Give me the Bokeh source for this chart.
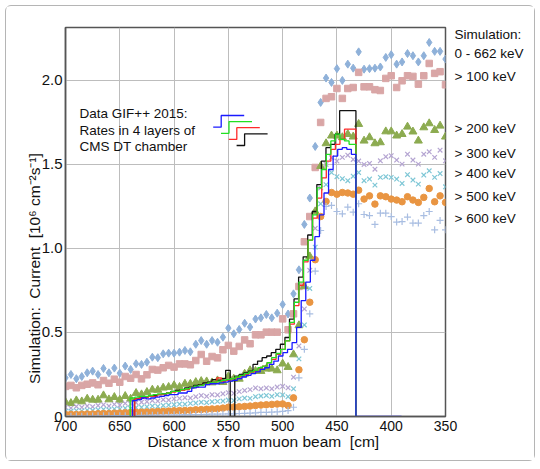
import math
from bokeh.plotting import figure
from bokeh.models import Range1d, FixedTicker, Label, LinearAxis, PrintfTickFormatter
from bokeh.embed import file_html
from bokeh.resources import INLINE

# ---------------- data ----------------
# simulation points every 5 cm from 700 down to 350
x_sim = list(range(700, 345, -5))

sim_0_662 = [0.23, 0.25, 0.225, 0.238, 0.26, 0.27, 0.25, 0.286, 0.26, 0.288, 0.258, 0.30, 0.28, 0.314,
             0.31, 0.323, 0.353, 0.35, 0.373, 0.377, 0.377, 0.383, 0.393, 0.385, 0.43, 0.452, 0.43, 0.452,
             0.442, 0.472, 0.526, 0.492, 0.518, 0.555, 0.532, 0.58, 0.587, 0.607, 0.587, 0.615, 0.667, 0.61,
             0.73, 0.873, 1.143, 1.30, 1.607, 1.869, 2.014, 1.988, 2.07, 2.0, 2.097, 2.073, 2.17, 2.067,
             2.07, 2.073, 2.08, 2.137, 2.153, 2.097, 2.11, 2.16, 2.147, 2.11, 2.147, 2.226, 2.173, 2.173, 2.127]
sim_100 = [0.179, 0.185, 0.171, 0.185, 0.192, 0.2, 0.189, 0.214, 0.198, 0.222, 0.204, 0.238, 0.228, 0.25,
           0.224, 0.248, 0.28, 0.276, 0.29, 0.304, 0.294, 0.313, 0.313, 0.308, 0.333, 0.369, 0.329, 0.357,
           0.349, 0.397, 0.423, 0.389, 0.417, 0.456, 0.433, 0.486, 0.486, 0.502, 0.502, 0.502, 0.581, 0.516,
           0.611, 0.774, 1.04, 1.19, 1.482, 1.75, 1.893, 1.903, 1.952, 1.893, 1.952, 1.958, 2.048, 1.962,
           1.962, 1.945, 1.94, 2.012, 2.028, 1.958, 1.998, 2.028, 2.024, 1.978, 2.028, 2.101, 2.042, 2.052, 1.974]
sim_200 = [0.085, 0.079, 0.095, 0.089, 0.105, 0.099, 0.099, 0.125, 0.101, 0.115, 0.099, 0.121, 0.105, 0.139,
           0.131, 0.145, 0.159, 0.158, 0.171, 0.175, 0.185, 0.175, 0.194, 0.194, 0.204, 0.21, 0.208, 0.202,
           0.214, 0.204, 0.238, 0.224, 0.224, 0.254, 0.274, 0.27, 0.27, 0.284, 0.284, 0.274, 0.314, 0.294,
           0.369, 0.542, 0.774, 0.952, 1.22, 1.49, 1.625, 1.671, 1.671, 1.661, 1.68, 1.665, 1.74, 1.641,
           1.661, 1.625, 1.631, 1.696, 1.696, 1.671, 1.68, 1.724, 1.695, 1.641, 1.72, 1.744, 1.704, 1.73, 1.665]
sim_300 = [0.055, 0.05, 0.06, 0.055, 0.062, 0.058, 0.065, 0.07, 0.062, 0.072, 0.068, 0.078, 0.075, 0.082,
           0.085, 0.088, 0.095, 0.092, 0.1, 0.098, 0.105, 0.108, 0.112, 0.11, 0.118, 0.125, 0.12, 0.13,
           0.128, 0.135, 0.142, 0.138, 0.148, 0.155, 0.16, 0.17, 0.165, 0.17, 0.165, 0.175, 0.18, 0.171,
           0.234, 0.42, 0.64, 0.87, 1.12, 1.36, 1.5, 1.54, 1.52, 1.542, 1.555, 1.53, 1.52, 1.5,
           1.506, 1.472, 1.522, 1.546, 1.552, 1.526, 1.502, 1.561, 1.526, 1.502, 1.561, 1.575, 1.542, 1.585, 1.522]
sim_400 = [0.03, 0.032, 0.035, 0.033, 0.038, 0.036, 0.04, 0.042, 0.04, 0.045, 0.044, 0.05, 0.048, 0.053,
           0.055, 0.058, 0.062, 0.06, 0.066, 0.068, 0.07, 0.074, 0.073, 0.078, 0.08, 0.085, 0.083, 0.088,
           0.09, 0.092, 0.098, 0.095, 0.105, 0.11, 0.108, 0.118, 0.122, 0.125, 0.12, 0.13, 0.128, 0.118,
           0.165, 0.343, 0.545, 0.762, 1.008, 1.266, 1.38, 1.452, 1.427, 1.415, 1.403, 1.43, 1.452, 1.403,
           1.413, 1.377, 1.423, 1.427, 1.423, 1.413, 1.387, 1.439, 1.407, 1.383, 1.437, 1.462, 1.423, 1.446, 1.367]
sim_500 = [0.012, 0.013, 0.012, 0.014, 0.015, 0.015, 0.017, 0.018, 0.018, 0.02, 0.021, 0.022, 0.024, 0.025,
           0.026, 0.027, 0.028, 0.03, 0.031, 0.032, 0.034, 0.035, 0.036, 0.037, 0.04, 0.041, 0.043, 0.045,
           0.046, 0.05, 0.055, 0.056, 0.058, 0.06, 0.062, 0.065, 0.068, 0.07, 0.072, 0.074, 0.075, 0.065,
           0.111, 0.278, 0.457, 0.68, 0.933, 1.19, 1.28, 1.333, 1.323, 1.333, 1.33, 1.323, 1.347, 1.294,
           1.313, 1.264, 1.313, 1.308, 1.294, 1.288, 1.278, 1.308, 1.288, 1.274, 1.304, 1.357, 1.278, 1.313, 1.274]
sim_600 = [0.002, 0.002, 0.003, 0.002, 0.003, 0.003, 0.004, 0.004, 0.004, 0.005, 0.005, 0.005, 0.006, 0.006,
           0.007, 0.007, 0.008, 0.008, 0.009, 0.009, 0.01, 0.01, 0.011, 0.011, 0.012, 0.012, 0.013, 0.014,
           0.014, 0.015, 0.016, 0.016, 0.018, 0.019, 0.02, 0.022, 0.024, 0.025, 0.026, 0.028, 0.03, 0.035,
           0.055, 0.23, 0.40, 0.611, 0.865, 1.107, 1.25, 1.256, 1.22, 1.206, 1.246, 1.216, 1.266, 1.202,
           1.196, 1.143, 1.21, 1.21, 1.19, 1.157, 1.16, 1.187, 1.151, 1.151, 1.196, 1.22, 1.111, 1.167, 1.111]

# measured rates in the 4 DT layers (cell width 4.2 cm)
cell_w = 4.2
blue_start, green_start, red_start, black_start = 638.3, 640.4, 636.2, 636.5
data_end = 432.5
layer_blue = [0.095, 0.10, 0.11, 0.105, 0.11, 0.115, 0.12, 0.125, 0.13, 0.13, 0.14, 0.14, 0.15, 0.17,
              0.175, 0.175, 0.19, 0.195, 0.195, 0.2, 0.205, 0.21, 0.215, 0.225, 0.235, 0.245, 0.255, 0.265,
              0.28, 0.29, 0.31, 0.33, 0.36, 0.38, 0.40, 0.44, 0.53, 0.69, 0.80, 0.93, 1.07, 1.20, 1.33,
              1.47, 1.55, 1.59, 1.60, 1.59, 1.56,
              0, 0, 0, 0, 0, 0, 0, 0, 0, 0]
layer_green = [0.11, 0.115, 0.12, 0.12, 0.125, 0.13, 0.135, 0.135, 0.14, 0.15, 0.15, 0.16, 0.165, 0.17,
               0.18, 0.185, 0.19, 0.20, 0.205, 0.21, 0.215, 0.22, 0.225, 0.235, 0.245, 0.255, 0.265, 0.275,
               0.29, 0.30, 0.32, 0.35, 0.375, 0.40, 0.45, 0.56, 0.68, 0.80, 0.93, 1.05, 1.20, 1.36, 1.47,
               1.56, 1.64, 1.68, 1.65, 1.64, 1.62]
layer_red = [0.105, 0.11, 0.115, 0.12, 0.12, 0.13, 0.13, 0.14, 0.145, 0.15, 0.155, 0.16, 0.17, 0.175,
             0.185, 0.19, 0.195, 0.205, 0.23, 0.21, 0.215, 0.225, 0.23, 0.24, 0.25, 0.26, 0.27, 0.285,
             0.30, 0.32, 0.34, 0.37, 0.40, 0.45, 0.55, 0.66, 0.78, 0.92, 1.05, 1.18, 1.30, 1.42, 1.52,
             1.59, 1.62, 1.65, 1.71, 1.71]
layer_black = [0.105, 0.11, 0.115, 0.12, 0.125, 0.13, 0.135, 0.14, 0.15, 0.155, 0.16, 0.17, 0.175, 0.185,
               0.19, 0.2, 0.205, 0.22, 0.215, 0.225, 0.275, 0.0, 0.24, 0.25, 0.26, 0.27, 0.31, 0.33,
               0.35, 0.36, 0.38, 0.40, 0.43, 0.47, 0.58, 0.70, 0.83, 0.95, 1.08, 1.22, 1.38, 1.52, 1.60,
               1.62, 1.68, 1.82, 1.82, 1.82]

x_ticks = [700, 650, 600, 550, 500, 450, 400, 350]
y_ticks = [0, 0.5, 1.0, 1.5, 2.0]
sim_labels = ["Simulation:", "0 - 662 keV", "> 100 keV", "> 200 keV", "> 300 keV",
              "> 400 keV", "> 500 keV", "> 600 keV"]
legend_lines = ["Data GIF++ 2015:", "Rates in 4 layers of", "CMS DT chamber"]

# ---------------- layout helpers ----------------
X0, X1, Y0, Y1 = 700, 350, 0.0, 2.315
FL, FT, FW, FH = 65, 27, 380, 389   # frame position on page
MARGIN = 5


def px2x(px):
    return X0 + (px - FL) * (X1 - X0) / FW


def py2y(py):
    return Y0 + (FT + FH - py) * (Y1 - Y0) / FH


FONT = "Liberation Sans"
TXT = "#111111"
NB = "\u00a0"

p = figure(frame_width=FW, frame_height=FH,
           min_border_left=FL - MARGIN - 1, min_border_right=89,
           min_border_top=FT - MARGIN - 1, min_border_bottom=44,
           x_range=Range1d(X0, X1), y_range=Range1d(Y0, Y1),
           output_backend="svg", toolbar_location=None)
p.styles = {"border": "1px solid #b5b5b5", "border-radius": "6px",
            "margin": f"{MARGIN}px 0 0 {MARGIN}px"}
p.background_fill_color = "white"
p.border_fill_color = "white"
p.outline_line_color = "#555555"
p.outline_line_width = 1.5

for ax in (p.xaxis, p.yaxis):
    ax.axis_line_color = "#555555"
    ax.axis_line_width = 1.5
    ax.major_tick_in = 0
    ax.major_tick_out = 0
    ax.minor_tick_line_color = None
    ax.major_label_text_font = FONT
    ax.major_label_text_color = TXT
    ax.axis_label_text_font = FONT
    ax.axis_label_text_font_size = "15.5px"
    ax.axis_label_text_font_style = "normal"
    ax.axis_label_text_color = TXT
p.xaxis.major_label_text_font_size = "14px"
p.yaxis.major_label_text_font_size = "15px"
p.xaxis.ticker = FixedTicker(ticks=x_ticks)
p.yaxis.ticker = FixedTicker(ticks=y_ticks)
p.yaxis.formatter = PrintfTickFormatter(format="%.1f")
p.yaxis.major_label_overrides = {0: "0"}
p.xaxis.major_label_standoff = 4
p.yaxis.major_label_standoff = 3
p.xaxis.axis_label = "\u2002\u2002Distance x from muon beam " + NB + "[cm]"
p.xaxis.axis_label_standoff = -1
p.yaxis.axis_label = ("Simulation: " + NB + "Current " + NB + "[10\u2076 cm\u207b\u00b2s\u207b\u00b9]"
                      + "\u2003" * 6)
p.yaxis.axis_label_standoff = -4
p.xgrid.ticker = FixedTicker(ticks=x_ticks)
p.ygrid.ticker = FixedTicker(ticks=y_ticks)
p.grid.grid_line_color = "#bdbdbd"
p.grid.grid_line_width = 1

# right-hand list of simulation energy thresholds (as axis labels)
label_py = [34, 52.5, 76, 128.5, 153.5, 173.5, 196, 218.5]
label_y = [round(py2y(v), 4) for v in label_py]
right_ax = LinearAxis(ticker=FixedTicker(ticks=label_y),
                      major_label_overrides={k: t for k, t in zip(label_y, sim_labels)},
                      axis_line_color=None, major_tick_line_color=None, minor_tick_line_color=None,
                      major_tick_in=0, major_tick_out=0, major_label_standoff=9,
                      major_label_text_font=FONT, major_label_text_font_size="13.5px",
                      major_label_text_color=TXT)
p.add_layout(right_ax, "right")

# ---------------- simulation markers ----------------
p.scatter(x_sim, sim_0_662, marker="diamond", size=8, color="#8fb1d9")
p.scatter(x_sim, sim_100, marker="square", size=6.5, color="#d9a6a6")
p.scatter(x_sim, sim_200, marker="triangle", size=8, color="#8cab50")
p.scatter(x_sim, sim_300, marker="x", size=6.5, line_color="#b5a5d2", line_width=1.2)
p.scatter(x_sim, sim_400, marker="x", size=6.5, line_color="#7fc7d6", line_width=1.2)
p.scatter(x_sim, sim_500, marker="circle", size=6.5, color="#e99542")
p.scatter(x_sim, sim_600, marker="cross", size=7, line_color="#a9bee2", line_width=1.2)


# ---------------- data histograms ----------------
def hist(start, vals, color, end=None):
    edges = [start - cell_w * k for k in range(len(vals) + 1)]
    if end is not None:
        edges[-1] = end
    xs = [edges[0]] + edges
    ys = [0.0] + list(vals) + [0.0]
    p.step(xs, ys, mode="after", line_color=color, line_width=1.3)


hist(black_start, layer_black, "#111111", data_end)
hist(red_start, layer_red, "#ff2a2a", data_end)
hist(green_start, layer_green, "#22e022", data_end)
hist(blue_start, layer_blue, "#1a1aff")

# ---------------- legend block ----------------
for i, t in enumerate(legend_lines):
    p.add_layout(Label(x=px2x(79), y=py2y(113 + 16.5 * i), text=t, text_font=FONT,
                       text_font_size="13.5px", text_baseline="middle", text_color=TXT))
icon_colors = ["#1a1aff", "#22e022", "#ff2a2a", "#111111"]
for i, c in enumerate(icon_colors):
    ox, oy = 212.7 + 7.8 * i, 126.7 + 6.1 * i
    xs = [px2x(ox), px2x(ox + 8), px2x(ox + 8), px2x(ox + 31)]
    ys = [py2y(oy), py2y(oy), py2y(oy - 11.7), py2y(oy - 11.7)]
    p.line(xs, ys, line_color=c, line_width=1.3)

open("out.html", "w").write(file_html(p, INLINE))
